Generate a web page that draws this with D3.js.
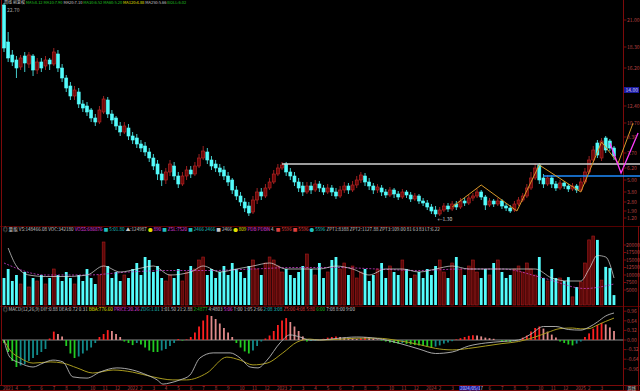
<!DOCTYPE html>
<html>
<head>
<meta charset="utf-8">
<script src="https://cdn.jsdelivr.net/npm/d3@7"></script>
<style>
html, body { margin: 0; padding: 0; background: #000; overflow: hidden; }
text { font-family: "Noto Sans CJK SC", "DejaVu Sans", sans-serif; }
</style>
</head>
<body>
<div id="chart"></div>
<script>
// weekly bars
const openP = [22.5,18.8,17.5,17.0,16.3,17.4,16.6,17.4,16.0,16.8,
  16.4,17.0,16.6,17.6,16.2,15.2,14.4,13.4,13.8,12.6,
  12.4,12.0,11.2,10.8,11.8,13.0,11.6,11.2,10.4,9.8,
  10.2,9.4,9.2,8.6,8.4,7.8,7.2,6.6,5.6,5.0,
  5.8,6.4,5.4,4.6,5.4,6.0,5.6,6.4,7.2,7.8,
  7.0,6.6,6.2,6.0,5.4,5.0,4.0,3.4,2.8,2.4,
  1.8,3.0,3.8,3.4,4.2,4.8,5.6,6.2,6.6,5.8,
  5.4,4.8,4.4,3.8,4.4,4.0,4.6,4.2,3.8,4.2,
  3.8,3.4,4.0,4.4,4.0,4.5,5.0,5.4,4.8,4.4,
  4.0,4.2,3.8,3.5,4.0,3.6,3.3,3.8,3.5,3.1,
  3.4,2.9,2.7,2.3,2.0,1.6,2.0,2.4,2.1,2.6,
  2.3,2.9,2.7,3.2,3.4,3.8,3.3,2.5,2.9,2.6,
  2.9,2.4,2.2,2.0,2.6,3.0,3.4,4.2,5.2,6.5,
  5.2,4.6,5.2,4.6,4.2,4.7,4.4,4.1,4.4,4.0,
  4.8,5.8,7.0,8.7,7.2,9.2,8.9,8.2]
const closeP = [18.2,17.2,16.8,16.2,17.2,16.7,17.5,16.0,16.8,16.2,
  17.0,16.6,17.8,16.2,15.2,14.2,13.4,14.0,12.6,12.2,
  11.8,11.2,10.8,12.0,13.1,11.6,11.0,10.4,9.8,10.4,
  9.4,9.0,8.6,8.2,7.8,7.2,6.4,5.6,5.0,5.8,
  6.6,5.4,4.6,5.4,6.0,5.6,6.4,7.2,7.9,7.0,
  6.4,6.2,5.8,5.4,4.8,4.0,3.4,2.8,2.2,1.7,
  3.0,3.8,3.4,4.2,4.8,5.6,6.2,6.5,5.8,5.4,
  4.8,4.2,3.8,4.4,4.0,4.6,4.2,3.8,4.2,3.8,
  3.4,4.0,4.4,4.0,4.5,5.0,5.5,4.8,4.4,4.0,
  4.3,3.8,3.5,4.0,3.6,3.3,3.8,3.5,3.1,3.4,
  2.9,2.7,2.3,1.9,1.6,2.0,2.4,2.1,2.6,2.3,
  2.9,2.7,3.2,3.4,3.8,3.3,2.5,2.9,2.6,2.9,
  2.4,2.2,1.9,2.6,3.0,3.4,4.2,5.2,6.2,5.0,
  4.6,5.2,4.6,4.2,4.7,4.4,4.1,4.4,4.0,4.8,
  5.8,7.0,8.0,7.5,8.9,8.0,8.2,7.4]
const highP = [22.7,19.8,18.0,17.4,17.5,17.8,17.8,17.6,17.2,17.2,
  17.4,17.2,18.2,18.0,16.6,15.5,14.8,14.4,14.2,13.0,
  12.8,12.2,11.6,12.4,13.4,13.3,12.0,11.4,10.8,10.8,
  10.6,9.8,9.6,9.0,8.8,8.2,7.6,7.0,6.0,6.2,
  7.0,6.8,5.8,5.8,6.4,6.4,6.8,7.6,8.4,8.2,
  7.4,7.0,6.6,6.4,5.8,5.2,4.4,3.8,3.2,2.8,
  3.4,4.2,4.2,4.6,5.2,6.0,6.6,6.8,6.8,6.2,
  5.8,5.2,4.8,4.8,4.8,5.0,4.9,4.5,4.6,4.5,
  4.2,4.4,4.8,4.7,4.9,5.4,5.8,5.7,5.2,4.7,
  4.6,4.5,4.1,4.3,4.2,3.9,4.1,4.0,3.8,3.7,
  3.6,3.2,3.0,2.6,2.4,2.3,2.7,2.7,2.9,2.9,
  3.2,3.2,3.5,3.7,4.1,4.0,3.5,3.2,3.1,3.2,
  3.1,2.7,2.5,2.9,3.3,3.7,4.6,5.8,6.6,6.7,
  5.6,5.5,5.5,4.9,5.0,4.9,4.6,4.7,4.6,5.2,
  6.2,7.4,8.4,9.0,9.2,9.4,9.1,8.4]
const lowP = [17.8,16.8,16.4,15.2,16.0,15.8,16.2,15.4,15.6,15.8,
  16.0,16.0,16.4,15.8,14.8,13.8,13.0,13.0,12.2,11.8,
  11.4,10.8,10.4,10.6,11.6,11.2,10.6,10.0,9.4,9.6,
  9.0,8.6,8.2,7.8,7.4,6.8,6.0,5.0,4.4,4.6,
  5.4,5.0,4.2,4.4,5.0,5.2,5.4,6.2,7.0,6.6,
  6.0,5.8,5.4,5.0,4.4,3.6,3.0,2.4,1.8,1.4,
  1.6,2.6,3.0,3.2,4.0,4.6,5.4,6.0,5.4,5.0,
  4.4,3.8,3.4,3.6,3.6,3.8,3.8,3.5,3.6,3.4,
  3.1,3.2,3.7,3.6,3.8,4.2,4.7,4.4,4.0,3.6,
  3.7,3.4,3.2,3.3,3.2,3.0,3.1,3.2,2.8,2.9,
  2.6,2.4,2.0,1.6,1.3,1.4,1.8,1.8,1.9,2.0,
  2.1,2.4,2.5,2.9,3.2,3.0,2.0,2.3,2.3,2.4,
  2.1,1.9,1.7,1.8,2.4,2.8,3.2,4.0,5.0,4.6,
  4.2,4.4,4.2,3.9,4.0,4.1,3.8,3.9,3.7,3.8,
  4.6,5.6,6.8,7.2,6.9,7.7,7.9,7.0]

const volume = [9000,12000,8000,10000,7000,11000,6000,9000,8000,10000,
  7000,9000,12000,10000,8000,11000,9000,7000,10000,8000,
  12000,9000,7000,10000,21000,13000,9000,11000,8000,10000,
  9000,12000,14000,10000,16000,15000,11000,13000,9000,8000,
  10000,9000,12000,8000,11000,13000,12000,15000,16000,10000,
  12000,9000,11000,13000,10000,14000,12000,11000,9000,13000,
  15000,12000,10000,14000,16000,15000,13000,11000,12000,10000,
  9000,11000,13000,17000,12000,10000,14000,9000,11000,15000,
  16000,12000,14000,10000,13000,9000,11000,12000,8000,10000,
  12000,14000,9000,13000,11000,10000,15000,12000,9000,10000,
  11000,9000,12000,10000,13000,15000,11000,9000,14000,16000,
  12000,10000,13000,15000,11000,9000,12000,10000,14000,15000,
  11000,9000,10000,12000,13000,11000,14000,12000,10000,16000,
  9000,8000,12000,9000,9000,8000,9300,2700,6000,7700,
  14000,21700,23000,21700,8300,12700,12300,3300]
// volume averages, sampled [bar, value]
const volMaWhite = [[1,19000],[3,13000],[6,10000],[10,9500],[15,9500],[20,10000],[24,13000],[28,11000],
  [32,12000],[36,13000],[40,10000],[45,11000],[48,13000],[52,11000],[56,12000],[60,13000],[64,14000],
  [68,12000],[72,12000],[76,12000],[80,13000],[84,12000],[88,10000],[92,12000],[96,12000],[100,11000],
  [104,12000],[108,13000],[112,12000],[116,12000],[120,12000],[124,12000],[128,12000],[132,9000],
  [136,8000],[139,8000],[141,12000],[143,16500],[145,16000],[147,9000]]
const volMaPink = [[0,14000],[10,10000],[20,10000],[30,11000],[40,11500],[50,11500],[60,12000],[70,12500],
  [80,12500],[90,12000],[100,11500],[110,12000],[120,12000],[130,9000],[140,5500],[147,7000]]

const macdHist = [-0.1,-0.4,-0.7,-0.9,
  -0.85,-0.8,-0.7,-0.6,-0.5,-0.4,-0.3,
  0.05,0.28,0.2,0.12,
  -0.2,-0.45,-0.6,-0.55,-0.45,-0.35,-0.25,-0.1,
  0.1,0.2,0.33,0.3,0.2,0.1,
  -0.05,-0.1,-0.17,-0.1,-0.15,
  -0.25,-0.35,-0.4,-0.4,-0.35,-0.3,-0.2,-0.1,
  0.03,-0.02,0.02,
  0.1,0.25,0.45,0.65,0.83,0.8,0.7,0.55,0.4,0.25,0.1,
  -0.1,-0.25,-0.38,-0.45,-0.35,-0.2,
  -0.05,0.05,
  0.15,0.3,0.5,0.65,0.73,0.6,0.45,0.3,0.12,
  -0.05,-0.03,-0.02,0.01,
  0.04,0.08,0.1,0.12,0.1,0.08,0.06,0.05,0.04,
  0.06,0.1,0.08,0.05,0.02,-0.02,-0.05,
  -0.08,-0.1,-0.12,-0.1,-0.13,-0.15,-0.17,-0.18,-0.2,-0.22,-0.25,-0.22,-0.18,
  -0.12,-0.08,-0.04,0.02,0.06,0.1,0.14,0.16,0.15,0.12,0.08,0.06,0.04,
  0.0,-0.03,-0.05,-0.06,-0.04,0.0,
  0.08,0.15,0.28,0.4,0.45,0.38,0.28,0.18,0.08,
  -0.05,-0.1,-0.15,-0.18,-0.12,-0.05,
  0.1,0.22,0.38,0.5,0.57,0.52,0.42,0.3]
const difPts = [[0,0],[1.4,-0.57],[3.9,-0.77],[7,-0.9],[9.4,-0.77],[11.8,-0.67],[14.2,-0.73],[16.6,-1.23],
  [20,-1.27],[23.1,-1.07],[27.2,-0.93],[31,-1.0],[34.5,-1.17],[36.9,-1.33],[38.3,-1.47],[40,-1.43],
  [42.4,-1.33],[44.8,-1.17],[47.2,-0.6],[50.4,-0.43],[54.5,-0.43],[56.9,-0.6],[59.3,-0.9],[61.2,-0.93],
  [63.4,-0.67],[66.5,-0.1],[68.9,0.17],[71.3,0.1],[73.7,0],[76,0],[80,0.05],[85,0.1],[90,0.05],
  [95,-0.1],[100,-0.3],[104,-0.45],[108,-0.4],[112,-0.2],[116,-0.1],[120,-0.05],[124,0.0],[127,0.2],
  [130,0.45],[133,0.45],[136,0.35],[139,0.33],[141,0.43],[143,0.6],[145,0.8],[147,0.9]]
const deaPts = [[0,0],[1.4,-0.33],[3.9,-0.6],[7,-0.77],[11.1,-0.73],[14.2,-0.77],[17.6,-0.93],[21.4,-1.1],
  [26.3,-1.0],[31,-1.07],[35.9,-1.23],[40.7,-1.33],[44,-1.33],[48.9,-1.1],[53.7,-0.57],[56.9,-0.67],
  [60,-0.83],[63.4,-0.77],[67.2,-0.43],[70.6,-0.07],[73.7,0.03],[76,0],[80,0.02],[85,0.06],[90,0.06],
  [95,-0.02],[100,-0.15],[104,-0.28],[108,-0.33],[112,-0.28],[116,-0.2],[120,-0.12],[124,-0.05],
  [128,0.1],[131,0.25],[134,0.38],[137,0.4],[139,0.37],[141,0.38],[143,0.5],[145,0.62],[147,0.73]]

// drawn lines on the price panel [bar, price]
const zigOrange = [[108,2.3],[115,4.5],[123.6,1.9],[129,6.5],[139,3.8],[144,8.8],[148,6.7],[151.6,10.7]]
const zigPink = [[146,8.7],[148.7,5.7],[152.8,9.7]]
const whiteLevel = {from: 67, price: 6.6}
const blueLevel = {from: 130, price: 5.4}

const priceTicks = [21.0,18.3,16.2,12.4,10.7,9.3,7.7,6.2,5.0,3.8,2.8,1.9,1.2]
const priceMark = 14.0
const volTicks = [20000,17500,15000,12500,10000,7500,5000]
const macdTicks = [0.96,0.64,0.32,0,-0.32,-0.64,-0.96]
const dateLabels = ["2021","4","5","6","7","8","9","10","11","12","2022","2","3","4","5","6","7","8","9",
  "10","11","12","2023","2","3","4","5","6","7","8","9","10","11","12","2024","2","3","","","6","7",
  "8","9","10","11","12","2025","2","3"]

const volTitle = [["◎ 量能 VS:148466.08 VOC:342180","#c8c8c8"],["VOSS:686876","#e040e0"],["■ 5:01.80","#20c0c0"],
  ["▲:124987","#c8c8c8"],["●","#e0e000"],["890","#e040e0"],["■","#20c0c0"],["ZSL:7520","#e040e0"],
  ["■ 2466","#20c0c0"],["2466","#20c0c0"],["■ 2466","#c8c8c8"],["● 809","#e0e000"],["PDB","#e040e0"],
  ["PDBN","#e040e0"],["4.","#c8c8c8"],["■ 5596","#e04040"],["■ 5596","#e04040"],["● 5596","#20c0c0"],
  ["ZPT1:8388 ZPT2:1127.88 ZPT3:109.00 81 63 83 LT:6.22","#c8c8c8"]]
const macdTitle = [["◎ MACD(12,26,9) DIF:0.88 DEA:0.72 0.31","#c8c8c8"],["BBA:776.60","#e0e000"],
  ["PRICE:20.26","#e040e0"],["ZDG:1.01","#20c0c0"],["1:01.50 21:2.88","#c8c8c8"],["2:4877","#20c020"],
  ["4:4803","#c8c8c8"],["5:06","#e040e0"],["T:00 1:05 2:66","#c8c8c8"],["2:08 3:08","#20c0c0"],
  ["Z5:00 4:08","#e04040"],["5:80","#e04040"],["6:00","#20c020"],["7:08 8:00 9:00","#c8c8c8"]]
const topTitle = [["周线 前复权","#c8c8c8"],["MA5:8.12 MA10:7.90","#20c020"],["MA20:7.10","#c8c8c8"],
  ["MA30:6.52 MA60:5.20","#20c020"],["MA120:4.88","#e0e000"],["MA250:5.66","#c8c8c8"],["BOLL:6.02","#20c020"]]

const N = closeP.length
const W = 640, H = 391, AX = 623.5
const RED = "#7c0a0a", CYAN = "#54fcfc", UPRED = "#c02828", LAB = "#b84040"

const svg = d3.select("#chart").append("svg")
  .attr("width", W).attr("height", H)
  .style("background", "#000").style("display", "block")

const x = d3.scaleLinear().domain([0, N - 1]).range([4, 614])
const yP = d3.scaleLinear().domain([0.5, 23]).range([225, 0])
const yV = d3.scaleLinear().domain([0, 24000]).range([305, 233])
const yM = d3.scaleLinear().domain([-1.5, 0.9]).range([385, 313])
const isUp = i => closeP[i] >= openP[i]

// frame
const frame = svg.append("g").attr("stroke", "#560000").attr("stroke-width", 1)
;[226.5, 306.5].forEach(y => frame.append("line").attr("x1", 0).attr("x2", W).attr("y1", y).attr("y2", y))
;[385.5, 390.5].forEach(y => frame.append("line").attr("x1", 0).attr("x2", W).attr("y1", y).attr("y2", y).attr("stroke", RED))
frame.append("line").attr("x1", 1.5).attr("x2", 1.5).attr("y1", 0).attr("y2", 385).attr("stroke", RED)
frame.append("line").attr("x1", AX).attr("x2", AX).attr("y1", 0).attr("y2", H).attr("stroke", RED)
frame.append("line").attr("x1", 638.5).attr("x2", 638.5).attr("y1", 226).attr("y2", H).attr("stroke", RED)

// candles
const gK = svg.append("g")
gK.selectAll("line").data(d3.range(N)).join("line")
  .attr("x1", i => x(i)).attr("x2", i => x(i))
  .attr("y1", i => yP(highP[i])).attr("y2", i => yP(lowP[i]))
  .attr("stroke", i => isUp(i) ? UPRED : CYAN).attr("stroke-width", 0.8)
gK.selectAll("rect").data(d3.range(N)).join("rect")
  .attr("x", i => x(i) - 1.5).attr("width", 3)
  .attr("y", i => yP(Math.max(openP[i], closeP[i])))
  .attr("height", i => Math.max(1, Math.abs(yP(openP[i]) - yP(closeP[i]))))
  .attr("fill", i => isUp(i) ? "#6e0808" : CYAN)
  .attr("stroke", i => isUp(i) ? UPRED : CYAN).attr("stroke-width", 0.6)

// level lines and zigzags
svg.append("line").attr("x1", x(whiteLevel.from)).attr("x2", W)
  .attr("y1", yP(whiteLevel.price)).attr("y2", yP(whiteLevel.price))
  .attr("stroke", "#d0d0d0").attr("stroke-width", 1.6)
svg.append("line").attr("x1", x(blueLevel.from)).attr("x2", W)
  .attr("y1", yP(blueLevel.price)).attr("y2", yP(blueLevel.price))
  .attr("stroke", "#1e8cff").attr("stroke-width", 1.6)
const zl = d3.line().x(d => x(d[0])).y(d => yP(d[1]))
svg.append("path").attr("d", zl(zigOrange)).attr("fill", "none").attr("stroke", "#d89a2a").attr("stroke-width", 1)
svg.append("path").attr("d", zl(zigPink)).attr("fill", "none").attr("stroke", "#ff3cff").attr("stroke-width", 1.3)

// high / low notes
const iHi = d3.maxIndex(highP), iLo = d3.minIndex(lowP)
svg.append("text").attr("x", 7).attr("y", 11.5).attr("font-size", 5).attr("fill", "#a0a0a0").text(highP[iHi].toFixed(2))
svg.append("text").attr("x", x(iLo) + 2).attr("y", yP(lowP[iLo]) + 4).attr("font-size", 5).attr("fill", "#d0d0d0").text("←" + lowP[iLo].toFixed(2))

// price axis
const gPA = svg.append("g")
priceTicks.forEach(p => {
  gPA.append("line").attr("x1", AX).attr("x2", AX + 3).attr("y1", yP(p)).attr("y2", yP(p)).attr("stroke", RED)
  gPA.append("text").attr("x", 627).attr("y", yP(p) + 1.8).attr("font-size", 5).attr("fill", LAB).text(p.toFixed(2))
})
gPA.append("rect").attr("x", 624).attr("y", yP(priceMark) - 3).attr("width", 15).attr("height", 6).attr("fill", "#1c1ca0")
gPA.append("text").attr("x", 625.5).attr("y", yP(priceMark) + 1.8).attr("font-size", 5).attr("fill", "#d0d0ff").text(priceMark.toFixed(2))

// volume
svg.append("g").selectAll("rect").data(d3.range(N)).join("rect")
  .attr("x", i => x(i) - 1.4).attr("width", 2.8)
  .attr("y", i => yV(volume[i])).attr("height", i => yV(0) - yV(volume[i]))
  .attr("fill", i => isUp(i) ? "#5a0808" : CYAN)
  .attr("stroke", i => isUp(i) ? "#a81c1c" : "none").attr("stroke-width", 0.6)
const vl = d3.line().x(d => x(d[0])).y(d => yV(d[1])).curve(d3.curveMonotoneX)
svg.append("path").attr("d", vl(volMaPink)).attr("fill", "none").attr("stroke", "#c83cc8").attr("stroke-width", 0.8).attr("stroke-dasharray", "2,1.5")
svg.append("path").attr("d", vl(volMaWhite)).attr("fill", "none").attr("stroke", "#e0e0e0").attr("stroke-width", 0.7)
volTicks.forEach(v => {
  svg.append("line").attr("x1", AX).attr("x2", AX + 3).attr("y1", yV(v)).attr("y2", yV(v)).attr("stroke", RED)
  svg.append("text").attr("x", 626).attr("y", yV(v) + 1.8).attr("font-size", 5).attr("fill", LAB).text(v)
})

// MACD
svg.append("line").attr("x1", 2).attr("x2", AX).attr("y1", yM(0)).attr("y2", yM(0)).attr("stroke", "#8a8a8a").attr("stroke-width", 1)
svg.append("g").selectAll("line").data(d3.range(N)).join("line")
  .attr("x1", i => x(i)).attr("x2", i => x(i))
  .attr("y1", yM(0)).attr("y2", i => yM(macdHist[i]))
  .attr("stroke-width", 1.8)
  .attr("stroke", i => {
    const v = macdHist[i], prev = i > 0 ? macdHist[i - 1] : 0
    if (v >= 0) return v >= prev ? "#ff2020" : "#e08a8a"
    return v <= prev ? "#22cc22" : "#128a8a"
  })
const ml = d3.line().x(d => x(d[0])).y(d => yM(d[1])).curve(d3.curveMonotoneX)
svg.append("path").attr("d", ml(deaPts)).attr("fill", "none").attr("stroke", "#a89a1e").attr("stroke-width", 1)
svg.append("path").attr("d", ml(difPts)).attr("fill", "none").attr("stroke", "#b8b8b8").attr("stroke-width", 0.9)
macdTicks.forEach(v => {
  svg.append("line").attr("x1", AX).attr("x2", AX + 3).attr("y1", yM(v)).attr("y2", yM(v)).attr("stroke", RED)
  svg.append("text").attr("x", 627).attr("y", yM(v) + 1.8).attr("font-size", 5).attr("fill", LAB).text(v.toFixed(2))
})

// title rows
function titleRow(parts, x0, y0, size) {
  const t = svg.append("text").attr("x", x0).attr("y", y0).attr("font-size", size)
  parts.forEach(p => t.append("tspan").attr("fill", p[1]).text(p[0] + "  "))
}
titleRow(topTitle, 4, 3.6, 4)
titleRow(volTitle, 3, 231, 4.6)
titleRow(macdTitle, 3, 311, 4.6)

// date axis
dateLabels.forEach((d, k) => {
  svg.append("text").attr("x", x(k * 3) - 1).attr("y", 389.5).attr("font-size", 4.6).attr("fill", LAB).text(d)
})
svg.append("rect").attr("x", 459).attr("y", 386).attr("width", 21).attr("height", 4.5).attr("fill", "#1c1ca0")
svg.append("text").attr("x", 460).attr("y", 389.6).attr("font-size", 4.4).attr("fill", "#d0d0ff").text("2024/05/17")
svg.append("rect").attr("x", 626).attr("y", 386).attr("width", 11).attr("height", 4.5).attr("fill", "none").attr("stroke", RED).attr("stroke-width", 0.6)
svg.append("text").attr("x", 627.5).attr("y", 389.6).attr("font-size", 4.2).attr("fill", "#e0e0e0").text("周线")
</script>
</body>
</html>
